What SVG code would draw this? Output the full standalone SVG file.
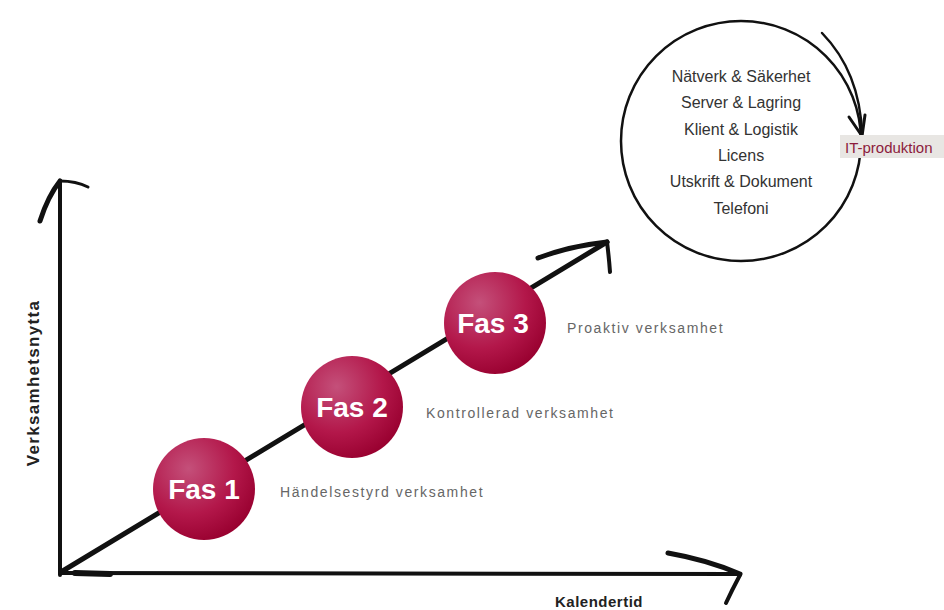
<svg xmlns="http://www.w3.org/2000/svg" width="944" height="610" viewBox="0 0 944 610">
<defs>
<radialGradient id="ball" cx="0.35" cy="0.3" r="0.75">
<stop offset="0" stop-color="#c4507a"/>
<stop offset="0.6" stop-color="#b3174a"/>
<stop offset="1" stop-color="#98002f"/>
</radialGradient>
<style>
.ink{fill:none;stroke:#111;stroke-linecap:round;stroke-linejoin:round}
.fas{font-family:"Liberation Sans",Arial,sans-serif;font-weight:bold;font-size:28px;fill:#fff;text-anchor:middle}
.lbl{font-family:"Liberation Sans",Arial,sans-serif;font-size:14px;fill:#666;letter-spacing:1.6px}
.list{font-family:"Liberation Sans",Arial,sans-serif;font-size:16px;fill:#333;text-anchor:middle}
.axis{font-family:"Liberation Sans",Arial,sans-serif;font-weight:bold;fill:#222}
</style>
</defs>
<rect width="944" height="610" fill="#fff"/>
<g id="connectors">
<path class="ink" d="M60 575 L60 181" stroke-width="4"/>
<path class="ink" d="M60 181 Q48 196 40 221" stroke-width="5"/>
<path class="ink" d="M60 181 Q76 181 88 187" stroke-width="3"/>
<path class="ink" d="M62 573 L740 574" stroke-width="4"/>
<path class="ink" d="M75 573 L110 574" stroke-width="6"/>
<path class="ink" d="M668 553 Q708 560 740 574" stroke-width="5"/>
<path class="ink" d="M740 575 Q732 590 726 603" stroke-width="4"/>
<path class="ink" d="M61 572 L607 242" stroke-width="5"/>
<path class="ink" d="M538 258 Q570 246 607 242" stroke-width="5"/>
<path class="ink" d="M607 242 Q609 258 610 272" stroke-width="4"/>
</g>
<g id="it-circle">
<circle cx="741" cy="141" r="120" class="ink" stroke-width="2.5"/>
<path class="ink" d="M822 33 Q860 72 862 134" stroke-width="2.5"/>
<path class="ink" d="M849 117 L862 136 L865 115" stroke-width="3"/>
<text class="list" x="741" y="82">Nätverk &amp; Säkerhet</text>
<text class="list" x="741" y="108">Server &amp; Lagring</text>
<text class="list" x="741" y="135">Klient &amp; Logistik</text>
<text class="list" x="741" y="161">Licens</text>
<text class="list" x="741" y="187">Utskrift &amp; Dokument</text>
<text class="list" x="741" y="214">Telefoni</text>
</g>
<g id="it-produktion">
<rect x="840" y="135" width="104" height="23" fill="#e8e6e3"/>
<text x="845" y="153" font-family="Liberation Sans, Arial, sans-serif" font-size="15" fill="#8c1c3c">IT-produktion</text>
</g>
<g id="fas1">
<circle cx="204" cy="489" r="51" fill="url(#ball)"/>
<text class="fas" x="204" y="499">Fas 1</text>
<text class="lbl" x="280" y="497">Händelsestyrd verksamhet</text>
</g>
<g id="fas2">
<circle cx="352" cy="407" r="51" fill="url(#ball)"/>
<text class="fas" x="352" y="417">Fas 2</text>
<text class="lbl" x="426" y="418">Kontrollerad verksamhet</text>
</g>
<g id="fas3">
<circle cx="495" cy="323" r="51" fill="url(#ball)"/>
<text class="fas" x="493" y="333">Fas 3</text>
<text class="lbl" x="567" y="333">Proaktiv verksamhet</text>
</g>
<g id="axis-labels">
<text class="axis" font-size="17" letter-spacing="1.3" transform="translate(39 383) rotate(-90)" text-anchor="middle">Verksamhetsnytta</text>
<text class="axis" font-size="15" letter-spacing="0.5" x="555" y="607">Kalendertid</text>
</g>
</svg>
